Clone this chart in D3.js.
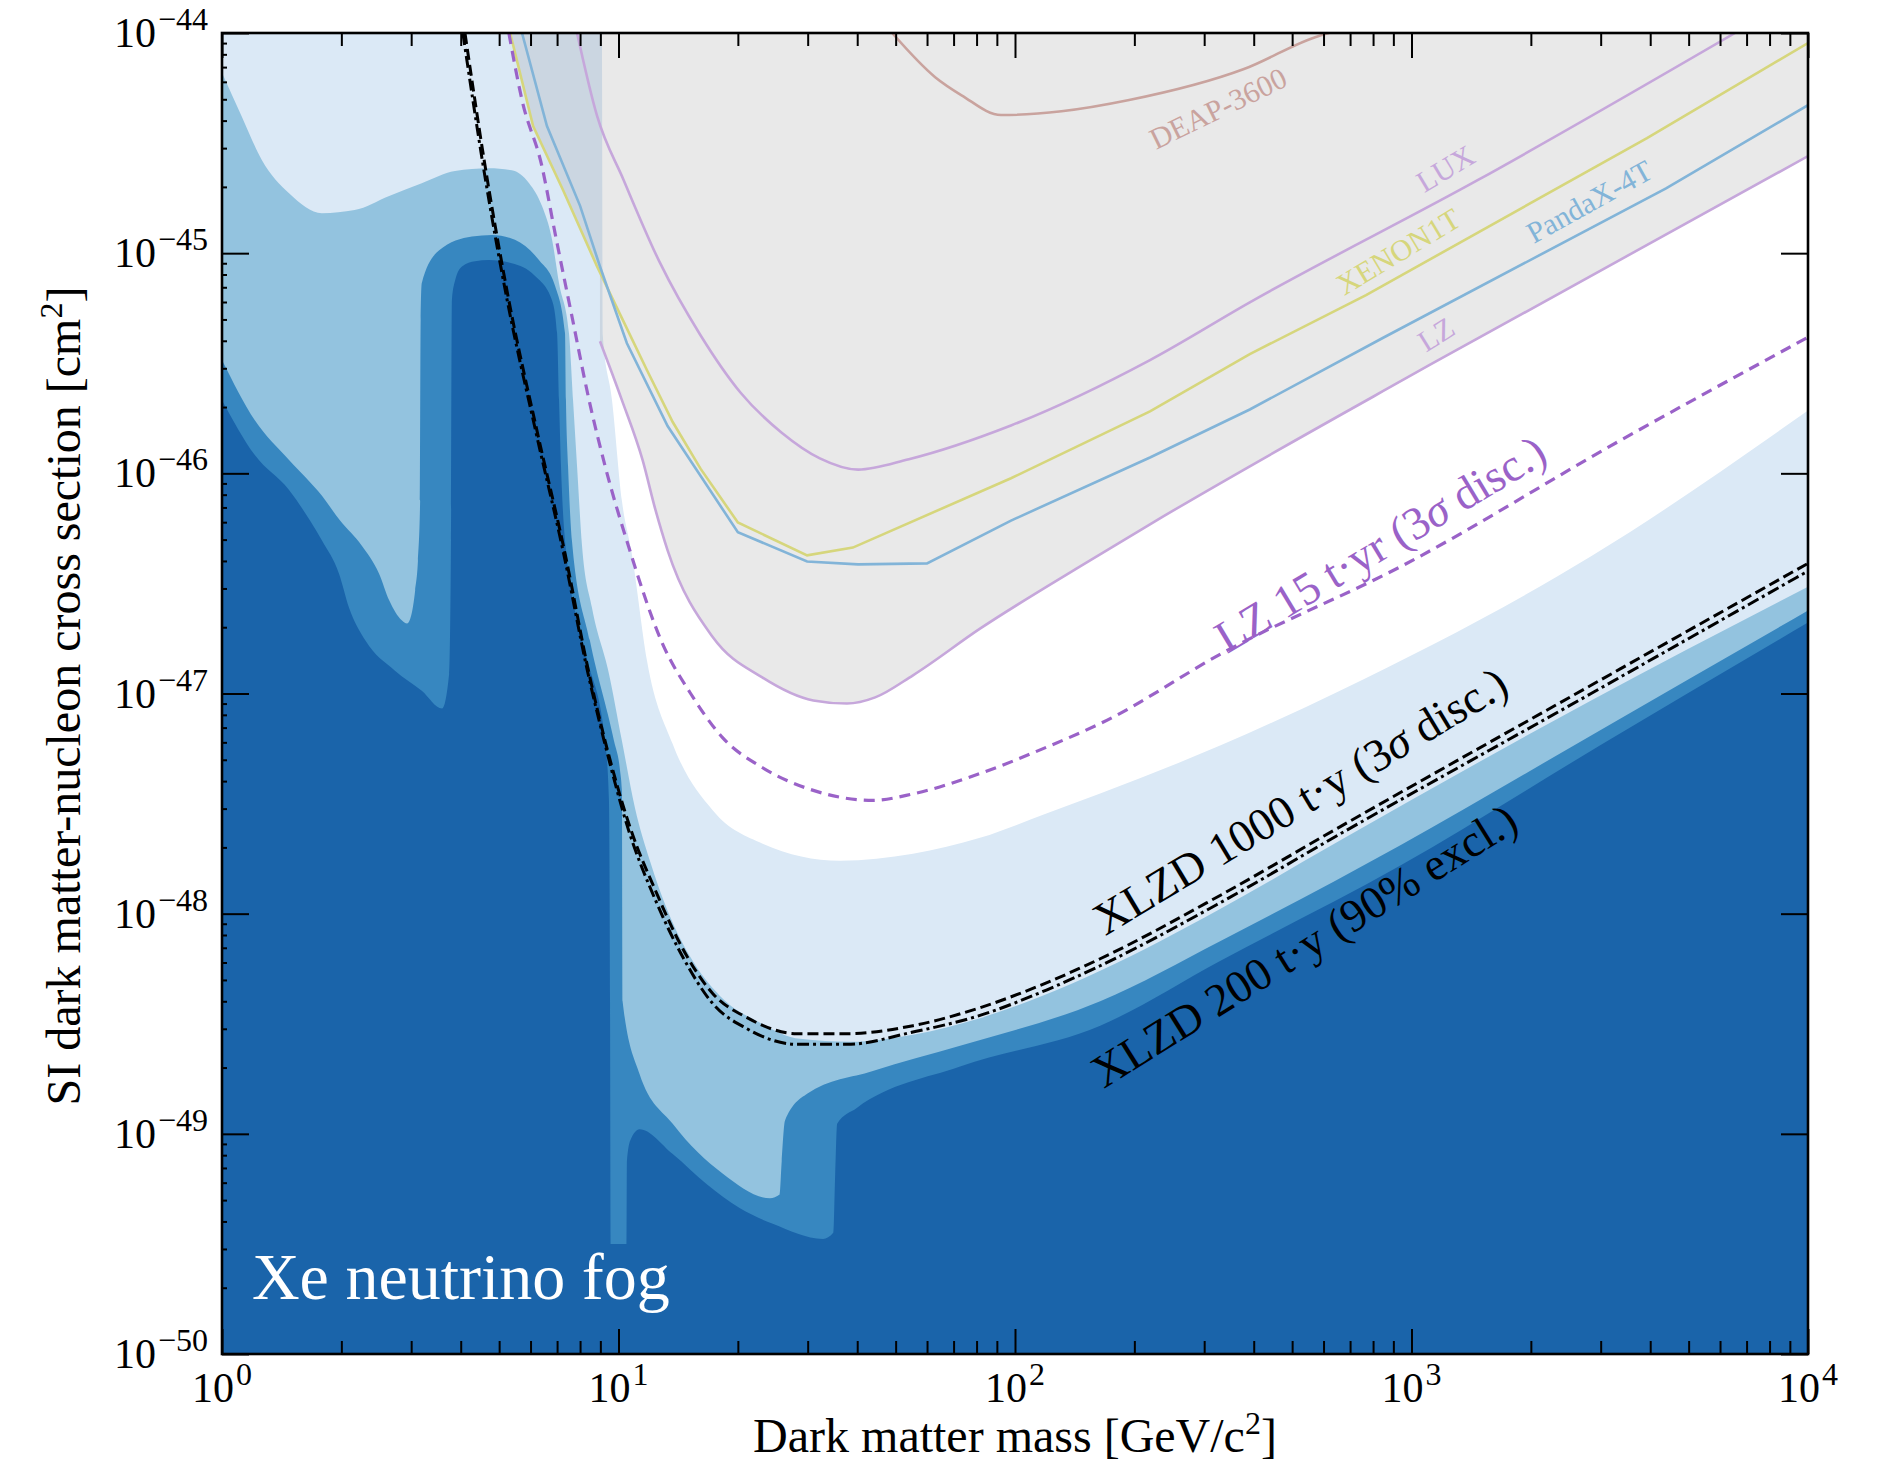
<!DOCTYPE html>
<html>
<head>
<meta charset="utf-8">
<script src="https://cdn.jsdelivr.net/npm/d3@7"></script>
<style>
  body { margin: 0; background: #fff; }
  text { font-family: "Liberation Serif", "DejaVu Serif", serif; }
</style>
</head>
<body>
<div id="chart"></div>
<script>
// values, each point is [mass in GeV/c^2, cross section in cm^2]

// Xe neutrino fog, upper edge of each shaded level (lightest first)
var fogLevel1 = [[1, 1e-44], [9.08, 1e-44], [9.12, 4.3e-46], [9.63, 2.15e-46], [10.2, 7.5e-47], [10.8, 4.33e-47],
  [11.8, 1.41e-47], [13.7, 5.9e-48], [17.3, 2.94e-48], [23.1, 2.08e-48], [36.2, 1.74e-48], [55.3, 1.87e-48],
  [81.6, 2.21e-48], [120, 2.85e-48], [164, 3.51e-48], [329, 5.8e-48], [660, 1.03e-47], [2838, 4.2e-47], [10000, 1.93e-46]];

var fogLevel2 = [[1, 6.6e-45], [1.12, 4.2e-45], [1.26, 2.65e-45], [1.476, 1.87e-45], [1.787, 1.52e-45], [2.16, 1.57e-45],
  [2.64, 1.82e-45], [3.19, 2.08e-45], [3.87, 2.36e-45], [4.71, 2.43e-45], [5.38, 2.38e-45], [5.95, 2.08e-45],
  [6.41, 1.64e-45], [6.80, 1.15e-45], [7.08, 7.3e-46], [7.50, 4.33e-46], [7.68, 2.15e-46], [7.86, 1.08e-46],
  [8.09, 4.7e-47], [8.57, 2.46e-47], [9.46, 1.23e-47], [10.2, 6.1e-48], [11.0, 3.03e-48], [12.0, 1.74e-48],
  [13.3, 1.03e-48], [15.1, 6.45e-49], [18.0, 4.24e-49], [22.7, 3.2e-49], [28.7, 2.7e-49], [38.4, 2.62e-49],
  [55.3, 2.82e-49], [81.6, 3.35e-49], [120, 4.3e-49], [164, 5.5e-49], [329, 1.05e-48], [660, 2.15e-48],
  [2838, 9.3e-48], [10000, 3.05e-47]];

var fogLevel3 = [[1, 3.27e-46], [1.21, 1.74e-46], [1.476, 1.15e-46], [1.787, 7.9e-47], [1.985, 6.1e-47], [2.25, 4.7e-47],
  [2.49, 3.5e-47], [2.64, 2.65e-47], [2.84, 2.15e-47], [2.93, 2.08e-47], [3.0, 2.26e-47], [3.07, 2.94e-47],
  [3.12, 4.0e-47], [3.16, 7.5e-47], [3.17, 4.96e-46], [3.19, 7.3e-46], [3.53, 1.03e-45], [4.27, 1.19e-45],
  [4.80, 1.21e-45], [5.48, 1.15e-45], [6.30, 9.3e-46], [6.92, 7.1e-46], [7.33, 4.33e-46], [7.37, 2.15e-46],
  [7.46, 1.08e-46], [7.63, 4.95e-47], [8.47, 1.74e-47], [9.74, 6.1e-48], [10.09, 4.47e-48], [10.2, 3.62e-48],
  [10.24, 4.0e-49], [11.3, 1.87e-49], [13.7, 1.11e-49], [18.3, 6.6e-50], [24.1, 5.1e-50], [25.5, 5.3e-50],
  [25.8, 7.5e-50], [26.3, 1.15e-49], [29.9, 1.52e-49], [43.8, 1.93e-49], [72.7, 2.51e-49], [164, 4.0e-49],
  [329, 7.5e-49], [935, 2.04e-48], [2985, 6.8e-48], [10000, 2.38e-47]];

var fogLevel4 = [[1, 2.15e-46], [1.21, 1.21e-46], [1.476, 8.4e-47], [1.667, 6.1e-47], [1.787, 4.95e-47], [1.973, 3.5e-47],
  [2.09, 2.46e-47], [2.30, 1.74e-47], [2.73, 1.27e-47], [3.19, 1.03e-47], [3.59, 8.55e-48], [3.74, 1.23e-47],
  [3.78, 4.95e-47], [3.80, 6.1e-46], [3.87, 7.5e-46], [4.03, 8.7e-46], [4.35, 9.2e-46], [4.71, 9.3e-46],
  [5.38, 9.0e-46], [6.15, 7.9e-46], [6.80, 6.1e-46], [7.0, 4.33e-46], [7.08, 2.15e-46], [7.16, 1.08e-46],
  [7.33, 4.95e-47], [8.23, 1.57e-47], [9.25, 6.1e-48], [9.46, 3.27e-48], [9.52, 4.0e-49], [9.55, 3.16e-50],
  [10.47, 3.16e-50], [10.5, 7.5e-50], [10.7, 9.3e-50], [11.3, 1.05e-49], [13.7, 8.1e-50], [16.7, 5.9e-50],
  [20.2, 4.6e-50], [24.5, 3.9e-50], [32.8, 3.33e-50], [34.8, 3.55e-50], [35.2, 6.6e-50], [35.6, 1.11e-49],
  [39.9, 1.31e-49], [72.7, 2.02e-49], [164, 3.1e-49], [329, 6.1e-49], [935, 1.65e-48], [2985, 5.8e-48], [10000, 2.1e-47]];

// current limits
var deap3600 = [[49, 1e-44], [62.9, 6.3e-45], [73.5, 5.2e-45], [92.2, 4.24e-45], [131, 4.41e-45], [194, 4.96e-45],
  [378, 6.86e-45], [584, 9.7e-45], [620, 1e-44]];
var lux = [[7.86, 1e-44], [8.83, 4.2e-45], [10.3, 2.15e-45], [12.7, 9.1e-46], [16.1, 4.24e-46], [20.3, 2.33e-46],
  [25.8, 1.53e-46], [32.2, 1.17e-46], [40.2, 1.04e-46], [54.0, 1.16e-46], [97.7, 1.65e-46], [219, 3.27e-46],
  [391, 5.98e-46], [1472, 2.15e-45], [6546, 1e-44]];
var xenon1T = [[5.33, 1e-44], [6.09, 3.78e-45], [7.25, 1.93e-45], [8.83, 8.7e-46], [10.2, 5.07e-46], [11.8, 2.94e-46],
  [13.7, 1.71e-46], [16.1, 1.05e-46], [20.0, 5.98e-47], [29.9, 4.24e-47], [39.0, 4.6e-47], [97.7, 9.5e-47],
  [219, 1.91e-46], [391, 3.48e-46], [768, 6.45e-46], [3926, 3.33e-45], [10000, 9.0e-45]];
var pandaX4T = [[5.71, 1e-44], [6.6, 3.78e-45], [8.0, 1.64e-45], [8.98, 8.7e-46], [10.5, 3.9e-46], [13.3, 1.64e-46],
  [20.0, 5.4e-47], [29.9, 3.98e-47], [40.2, 3.86e-47], [60.0, 3.9e-47], [97.7, 6.1e-47], [219, 1.18e-46],
  [391, 1.95e-46], [853, 4.15e-46], [4385, 1.97e-45], [10000, 4.7e-45]];
var lz = [[8.98, 3.98e-46], [10.2, 2.15e-46], [11.5, 1.15e-46], [12.4, 6.8e-47], [13.3, 4.47e-47], [17.3, 1.8e-47],
  [23.1, 1.18e-47], [31.0, 9.3e-48], [37.7, 9.0e-48], [44.4, 9.6e-48], [55.3, 1.21e-47], [81.6, 1.97e-47],
  [146, 3.78e-47], [219, 5.87e-47], [1120, 3.13e-46], [10000, 2.76e-45]];

// projections
var lz15 = [[5.29, 1e-44], [5.71, 4.96e-45], [6.41, 2.48e-45], [6.92, 1.23e-45], [7.63, 5.17e-46], [8.43, 2.15e-46],
  [9.25, 1.08e-46], [10.6, 4.66e-47], [12.9, 1.69e-47], [15.2, 1.0e-47], [18.3, 6.3e-48], [23.1, 4.6e-48],
  [31.0, 3.63e-48], [43.8, 3.27e-48], [55.3, 3.5e-48], [81.6, 4.33e-48], [120, 5.7e-48], [164, 7.3e-48],
  [343, 1.57e-47], [952, 3.82e-47], [3337, 1.4e-46], [10000, 4.15e-46]];
var xlzd1000 = [[4.10, 1e-44], [4.61, 2.48e-45], [5.29, 6.1e-46], [6.25, 1.52e-46], [7.33, 4.33e-47], [8.43, 1.23e-47],
  [9.25, 6.1e-48], [10.7, 2.46e-48], [12.5, 1.23e-48], [14.3, 7.3e-49], [17.3, 4.33e-49], [21.1, 3.37e-49],
  [28.2, 2.85e-49], [37.7, 2.85e-49], [55.3, 3.1e-49], [81.6, 3.74e-49], [120, 4.85e-49], [164, 6.24e-49],
  [329, 1.21e-48], [660, 2.48e-48], [2838, 1.09e-47], [10000, 3.9e-47]];
var xlzd200 = [[4.05, 1e-44], [4.56, 2.48e-45], [5.24, 6.1e-46], [6.2, 1.52e-46], [7.27, 4.33e-47], [8.38, 1.23e-47],
  [9.2, 6.1e-48], [10.6, 2.4e-48], [12.4, 1.15e-48], [14.3, 6.7e-49], [17.3, 3.9e-49], [21.1, 3.0e-49],
  [28.2, 2.55e-49], [37.7, 2.55e-49], [55.3, 2.9e-49], [81.6, 3.45e-49], [120, 4.5e-49], [164, 5.8e-49],
  [329, 1.12e-48], [660, 2.3e-48], [2838, 1.0e-47], [10000, 3.6e-47]];

// axis ticks
var xMajor = [1, 10, 100, 1000, 10000];
var yMajor = [1e-50, 1e-49, 1e-48, 1e-47, 1e-46, 1e-45, 1e-44];


// set the dimensions and margins of the graph
var margin = {top: 33, right: 77, bottom: 113, left: 222},
    width = 1885 - margin.left - margin.right,
    height = 1467 - margin.top - margin.bottom;

var svg = d3.select("#chart")
  .append("svg")
    .attr("width", 1885)
    .attr("height", 1467)
  .append("g")
    .attr("transform", "translate(" + margin.left + "," + margin.top + ")");

var x = d3.scaleLog().domain([1, 1e4]).range([0, width]);
var y = d3.scaleLog().domain([1e-50, 1e-44]).range([height, 0]);

svg.append("clipPath").attr("id", "plotclip")
  .append("rect").attr("width", width).attr("height", height);
var plot = svg.append("g").attr("clip-path", "url(#plotclip)");

// neutrino fog levels, filled from the bottom of the plot
var fogArea = d3.area()
  .x(function(d) { return x(d[0]); })
  .y0(height)
  .y1(function(d) { return y(d[1]); })
  .curve(d3.curveMonotoneX);

var fogColors = ["#dbe9f6", "#93c3df", "#3787c0", "#1a64aa"];
[fogLevel1, fogLevel2, fogLevel3, fogLevel4].forEach(function(level, i) {
  plot.append("path").attr("d", fogArea(level)).attr("fill", fogColors[i]);
});

// excluded region: union of everything above the current limits
var limits = [
  {data: deap3600, color: "#c9a39e", curve: d3.curveMonotoneX},
  {data: lux,      color: "#c6a7db", curve: d3.curveMonotoneX},
  {data: xenon1T,  color: "#d6d67c", curve: d3.curveLinear},
  {data: pandaX4T, color: "#82b4d8", curve: d3.curveLinear},
  {data: lz,       color: "#c6a7db", curve: d3.curveMonotoneX}
];

var excluded = plot.append("g").attr("opacity", 0.17);
limits.forEach(function(l) {
  var a = d3.area()
    .x(function(d) { return x(d[0]); })
    .y0(-10)
    .y1(function(d) { return y(d[1]); })
    .curve(l.curve);
  excluded.append("path").attr("d", a(l.data)).attr("fill", "#808080");
});

limits.forEach(function(l) {
  var line = d3.line()
    .x(function(d) { return x(d[0]); })
    .y(function(d) { return y(d[1]); })
    .curve(l.curve);
  plot.append("path").attr("d", line(l.data))
    .attr("fill", "none").attr("stroke", l.color).attr("stroke-width", 2.6);
});

// projected sensitivities
var smooth = d3.line()
  .x(function(d) { return x(d[0]); })
  .y(function(d) { return y(d[1]); })
  .curve(d3.curveMonotoneX);

plot.append("path").attr("d", smooth(lz15))
  .attr("fill", "none").attr("stroke", "#9a62c8").attr("stroke-width", 3.2)
  .attr("stroke-dasharray", "11,7");
plot.append("path").attr("d", smooth(xlzd200))
  .attr("fill", "none").attr("stroke", "#000").attr("stroke-width", 3)
  .attr("stroke-dasharray", "12,4,3,4");
plot.append("path").attr("d", smooth(xlzd1000))
  .attr("fill", "none").attr("stroke", "#000").attr("stroke-width", 3)
  .attr("stroke-dasharray", "11,5");

// curve labels
function addLabel(m, s, angle, size, color) {
  return svg.append("text")
    .attr("transform", "translate(" + x(m) + "," + y(s) + ") rotate(" + angle + ")")
    .attr("text-anchor", "middle")
    .attr("dy", "0.35em")
    .attr("font-size", size)
    .attr("fill", color);
}
addLabel(325, 4.56e-45, -26, 30, "#c9a39e").text("DEAP-3600");
addLabel(1216, 2.43e-45, -31, 30, "#c6a7db").text("LUX");
addLabel(925, 1.02e-45, -31, 30, "#d6d67c").text("XENON1T");
addLabel(2805, 1.72e-45, -29, 30, "#82b4d8").text("PandaX-4T");
addLabel(1153, 4.29e-46, -32, 30, "#c6a7db").text("LZ");

var l15 = addLabel(833, 4.8e-47, -31, 46, "#9a62c8");
l15.append("tspan").text("LZ 15 t\u00b7yr (3");
l15.append("tspan").attr("font-style", "italic").text("\u03c3");
l15.append("tspan").text(" disc.)");

var l1000 = addLabel(523, 3.27e-48, -31, 46, "#000");
l1000.append("tspan").text("XLZD 1000 t\u00b7y (3");
l1000.append("tspan").attr("font-style", "italic").text("\u03c3");
l1000.append("tspan").text(" disc.)");

addLabel(535, 7.2e-49, -32, 46, "#000").text("XLZD 200 t\u00b7y (90% excl.)");

svg.append("text")
  .attr("x", x(1.19)).attr("y", y(1.78e-50))
  .attr("font-size", 66).attr("fill", "#fff")
  .text("Xe neutrino fog");

// ticks (all pointing inwards)
var xMinor = [], yMinor = [];
for (var e = 0; e < 4; e++) for (var k = 2; k < 10; k++) xMinor.push(k * Math.pow(10, e));
for (var e = -50; e < -44; e++) for (var k = 2; k < 10; k++) yMinor.push(k * Math.pow(10, e));

function tickAxis(axis, transform) {
  var g = svg.append("g").attr("transform", transform || null).call(axis);
  g.select(".domain").remove();
  g.selectAll("line").attr("stroke", "#000").attr("stroke-width", 2);
  g.selectAll("text").remove();
}
tickAxis(d3.axisBottom(x).tickValues(xMajor).tickSize(-25), "translate(0," + height + ")");
tickAxis(d3.axisBottom(x).tickValues(xMinor).tickSize(-13), "translate(0," + height + ")");
tickAxis(d3.axisTop(x).tickValues(xMajor).tickSize(-25));
tickAxis(d3.axisTop(x).tickValues(xMinor).tickSize(-13));
tickAxis(d3.axisLeft(y).tickValues(yMajor).tickSize(-27));
tickAxis(d3.axisLeft(y).tickValues(yMinor).tickSize(-5));
tickAxis(d3.axisRight(y).tickValues(yMajor).tickSize(-27), "translate(" + width + ",0)");

svg.append("rect")
  .attr("width", width).attr("height", height)
  .attr("fill", "none").attr("stroke", "#000").attr("stroke-width", 2.6);

// tick labels as 10^n
function powLabel(sel, v) {
  var n = Math.round(Math.log10(v));
  sel.text("10");
  sel.append("tspan").attr("dx", 2).attr("dy", -17).attr("font-size", 32)
    .text(n < 0 ? "\u2212" + (-n) : String(n));
}

xMajor.forEach(function(v) {
  var t = svg.append("text")
    .attr("x", x(v)).attr("y", height + 48)
    .attr("text-anchor", "middle")
    .attr("font-size", 42);
  powLabel(t, v);
});

yMajor.forEach(function(v) {
  var t = svg.append("text")
    .attr("x", -14).attr("y", y(v) + 14)
    .attr("text-anchor", "end")
    .attr("font-size", 42);
  powLabel(t, v);
});

// axis titles
var xt = svg.append("text")
  .attr("x", width / 2).attr("y", height + 98)
  .attr("text-anchor", "middle")
  .attr("font-size", 48);
xt.append("tspan").text("Dark matter mass [GeV/c");
xt.append("tspan").attr("dy", -18).attr("font-size", 32).text("2");
xt.append("tspan").attr("dy", 18).text("]");

var yt = svg.append("text")
  .attr("transform", "translate(-142," + (696 - margin.top) + ") rotate(-90)")
  .attr("text-anchor", "middle")
  .attr("font-size", 48);
yt.append("tspan").text("SI dark matter-nucleon cross section [cm");
yt.append("tspan").attr("dy", -18).attr("font-size", 32).text("2");
yt.append("tspan").attr("dy", 18).text("]");
</script>
</body>
</html>
